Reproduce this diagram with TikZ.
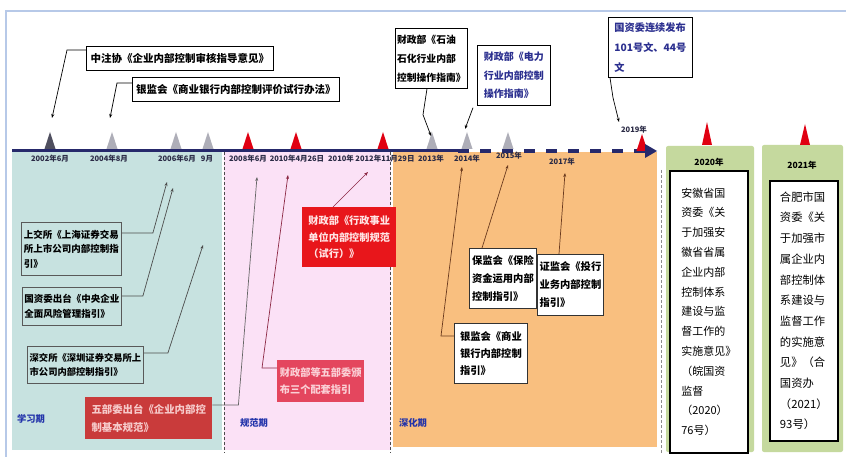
\documentclass[tikz,border=0pt]{standalone}
\usepackage{fontspec}
\setmainfont{Noto Sans CJK SC}
\usetikzlibrary{arrows.meta,calc}
\definecolor{frameblue}{HTML}{B7C9E8}
\definecolor{tealbg}{HTML}{C7E2E0}
\definecolor{pinkbg}{HTML}{FBE1F6}
\definecolor{orangebg}{HTML}{F9BF7F}
\definecolor{greenbg}{HTML}{C5D99E}
\definecolor{navy}{HTML}{26296B}
\definecolor{trired}{HTML}{E00012}
\definecolor{trigray}{HTML}{AEAEB8}
\definecolor{tridark}{HTML}{4F4F5F}
\definecolor{datecol}{HTML}{2A2A45}
\definecolor{periodblue}{HTML}{2233AA}
\definecolor{boxblue}{HTML}{2B2F8F}
\definecolor{redD}{HTML}{C93B3B}
\definecolor{redDtxt}{HTML}{F6CACA}
\definecolor{redE}{HTML}{E8161B}
\definecolor{redEtxt}{HTML}{FFE4E4}
\definecolor{redF}{HTML}{E4465E}
\definecolor{redFtxt}{HTML}{FBD0D6}
\definecolor{maroon}{HTML}{8C2844}
\definecolor{brownc}{HTML}{6B3A1E}
\newcommand\myfs[2]{\fontsize{#1}{#2}\selectfont}
\begin{document}
\begin{tikzpicture}[x=1pt,y=-1pt,
  tbox/.style={draw=black, line width=0.7pt, fill=white, inner sep=2pt, align=left, anchor=north west},
  sbox/.style={draw=black!65, line width=0.9pt, inner sep=2pt, align=left, anchor=north west, font=\bfseries\myfs{9.5}{14.5}},
  rbox/.style={inner sep=2pt, align=left, anchor=north west},
  obox/.style={draw=black!80, fill=white, line width=0.8pt, inner sep=2pt, align=left, anchor=north west},
  ybox/.style={draw=black, line width=1.6pt, fill=white, inner sep=2pt, align=left, anchor=north west},
  datelbl/.style={font=\bfseries\myfs{7.5}{8}, text=datecol, inner sep=0pt},
  period/.style={font=\bfseries\myfs{9.3}{10}, text=periodblue, inner sep=0pt},
  yearlbl/.style={font=\bfseries\myfs{8.5}{9}, text=black, inner sep=0pt},
  conn/.style={line width=0.7pt, -{Stealth[length=4pt,width=3pt]}},
]
\useasboundingbox (0,0) rectangle (846,457);
\fill[white] (0,0) rectangle (846,457);
% frame
\draw[frameblue, line width=1.5pt] (6,457) -- (6,11) -- (846,11);
% period regions
\fill[tealbg] (12,152) rectangle (222,450);
\fill[pinkbg] (224,152) rectangle (391,450);
\fill[orangebg] (393,152) rectangle (657,447);
\draw[black!70, line width=0.6pt, dash pattern=on 3pt off 2pt] (224,152) -- (224,453);
\draw[black!70, line width=0.6pt, dash pattern=on 3pt off 2pt] (390,152) -- (390,453);
\draw[black!45, line width=0.8pt, dash pattern=on 3pt off 2pt] (661,170) -- (661,453);
% green year panels
\fill[greenbg, rounded corners=2pt] (666,146) rectangle (754,452);
\fill[greenbg, rounded corners=2pt] (762,145) rectangle (843,452);
% timeline
\coordinate (tl0) at (12,151);
\coordinate (tl1) at (458,151);
\coordinate (tl2) at (645,151);
\coordinate (tlend) at (657,151);
\draw[navy, line width=3pt] (tl0) -- (tl1);
\draw[navy, line width=3.5pt, dash pattern=on 11pt off 11pt] (tl1) -- (tl2);
% triangles
\foreach \x/\c in {50/tridark,112/trigray,176/trigray,208/trigray,432/trigray,467/trigray,508/trigray,248/trired,296/trired,383/trired}{
  \fill[\c] (\x-5.5,149) -- (\x,132) -- (\x+5.5,149) -- cycle;
}
\fill[trired] (636.5,151) -- (642,134) -- (647.5,151) -- cycle;
\fill[navy] (tl2) ++(0,-7) -- (tlend) -- ++(-12,7) -- cycle;
\fill[trired] (702,145) -- (707,122) -- (712,145) -- cycle;
\fill[trired] (800,145) -- (805,124) -- (810,145) -- cycle;
% dates
\node[datelbl] (d2002) at (50,159) {2002年6月};
\node[datelbl] (d2004) at (109,159) {2004年8月};
\node[datelbl] (d2006) at (177,159) {2006年6月};
\node[datelbl] (d2006b) at (207,159) {9月};
\node[datelbl] (d2008) at (248,159) {2008年6月};
\node[datelbl] (d2010a) at (297,159) {2010年4月26日};
\node[datelbl] (d2010b) at (341,159) {2010年};
\node[datelbl] (d2012) at (385,159) {2012年11月29日};
\node[datelbl] (d2013) at (431,159) {2013年};
\node[datelbl] (d2014) at (467,159) {2014年};
\node[datelbl] (d2015) at (509,156) {2015年};
\node[datelbl] (d2017) at (562,162) {2017年};
\node[datelbl] (d2019) at (634,130) {2019年};
\node[yearlbl] (y2020) at (709,162) {2020年};
\node[yearlbl] (y2021) at (802,165) {2021年};
% period names
\node[period] (p1) at (31,419) {学习期};
\node[period] (p2) at (254,423) {规范期};
\node[period] (p3) at (413,423) {深化期};
% top boxes
\node[tbox, font=\bfseries\myfs{10.5}{18}, minimum width=187, minimum height=24] (n1) at (86,46) {中注协《企业内部控制审核指导意见》};
\node[tbox, font=\bfseries\myfs{10.5}{18}, minimum width=207, minimum height=24] (n2) at (132,77) {银监会《商业银行内部控制评价试行办法》};
\node[tbox, font=\bfseries\myfs{9.8}{19}, inner sep=1.5pt, minimum width=72, minimum height=60] (n3) at (395,28) {财政部《石油\\石化行业内部\\控制操作指南》};
\node[tbox, font=\bfseries\myfs{10}{18.5}, text=boxblue, minimum width=73, minimum height=60] (n4) at (477,45) {财政部《电力\\行业内部控制\\操作指南》};
\node[tbox, font=\bfseries\myfs{10.2}{20}, text=boxblue, minimum width=84, minimum height=60] (n5) at (608,17) {国资委连续发布\\101号文、44号\\文};
% learning period boxes
\node[sbox, minimum width=100, minimum height=53] (nA) at (21,222) {上交所《上海证券交易\\所上市公司内部控制指\\引》};
\node[sbox, minimum width=99, minimum height=38] (nB) at (22,287) {国资委出台《中央企业\\全面风险管理指引》};
\node[sbox, font=\bfseries\myfs{9.3}{14.5}, minimum width=116, minimum height=37] (nC) at (27,346) {深交所《深圳证券交易所上\\市公司内部控制指引》};
\node[rbox, fill=redD, text=redDtxt, font=\bfseries\myfs{10.4}{18}, minimum width=127, minimum height=42] (nD) at (85,397) {五部委出台《企业内部控\\制基本规范》};
% standard period boxes
\node[rbox, fill=redE, text=redEtxt, font=\bfseries\myfs{10.2}{16.7}, minimum width=94, minimum height=60] (nE) at (302,207) {财政部《行政事业\\单位内部控制规范\\（试行）》};
\node[rbox, fill=redF, text=redFtxt, font=\bfseries\myfs{10.2}{17}, minimum width=87, minimum height=42] (nF) at (277,360) {财政部等五部委颁\\布三个配套指引};
% deepening period boxes
\node[obox, font=\bfseries\myfs{10.3}{18}, minimum width=67, minimum height=60] (nG) at (469,248) {保监会《保险\\资金运用内部\\控制指引》};
\node[obox, font=\bfseries\myfs{10.3}{18}, minimum width=66, minimum height=61] (nH) at (537,254) {证监会《投行\\业务内部控制\\指引》};
\node[obox, font=\bfseries\myfs{10.3}{16.7}, minimum width=73, minimum height=60] (nI) at (454,323) {银监会《商业\\银行内部控制\\指引》};
% year boxes
\node[ybox, font=\myfs{11}{19.8}, minimum width=78, minimum height=282] (nY1) at (669,170) {安徽省国\\资委《关\\于加强安\\徽省省属\\企业内部\\控制体系\\建设与监\\督工作的\\实施意见》\\（皖国资\\监督\\（2020）\\76号）};
\node[ybox, font=\myfs{11.3}{20.7}, minimum width=68, minimum height=260] (nY2) at (769,180) {合肥市国\\资委《关\\于加强市\\属企业内\\部控制体\\系建设与\\监督工作\\的实施意\\见》（合\\国资办\\（2021）\\93号）};
% arrow end points
\coordinate (a1) at (52,118);
\coordinate (a2) at (110,118);
\coordinate (a3) at (431,136);
\coordinate (a4) at (465,129);
\coordinate (a5) at (619,122);
\coordinate (aA) at (167,182);
\coordinate (aB) at (173,188);
\coordinate (aC) at (203,245);
\coordinate (aD) at (257,177);
\coordinate (aE) at (368,172);
\coordinate (aF) at (288,175);
\coordinate (aG) at (508,165);
\coordinate (aH) at (565,173);
\coordinate (aI) at (462,167);
% connectors
\draw[conn, black] ($(n1.north west)+(0,4)$) -- ++(-19,0) -- (a1);
\draw[conn, black] ($(n2.north west)+(0,6)$) -- ++(-15,0) -- (a2);
\draw[conn, black] ($(n3.south west)+(32,0)$) -- ++(-4,26) -- (a3);
\draw[conn, black] ($(n4.south west)+(-4,2)$) -- (a4);
\draw[conn, black] ($(n5.south west)+(2,0)$) -- ++(3,20) -- (a5);
\draw[conn, black!70] ($(nA.north east)+(0,11)$) -- ++(31,0) -- (aA);
\draw[conn, black!70] ($(nB.north east)+(0,9)$) -- ++(21,0) -- (aB);
\draw[conn, black!70] ($(nC.north east)+(0,7)$) -- ++(24,0) -- (aC);
\draw[conn, black!60] ($(nD.north east)+(0,8)$) -- ++(26,0) -- (aD);
\draw[conn, maroon] ($(nE.north west)+(31,0)$) -- (aE);
\draw[conn, maroon] ($(nF.north west)+(0,8)$) -- ++(-15,0) -- (aF);
\draw[conn, brownc] ($(nG.north west)+(13,0)$) -- (aG);
\draw[conn, brownc] ($(nH.north west)+(22,0)$) -- (aH);
\draw[conn, brownc] ($(nI.north west)+(0,13)$) -- ++(-13,0) -- (aI);
\end{tikzpicture}
\end{document}
